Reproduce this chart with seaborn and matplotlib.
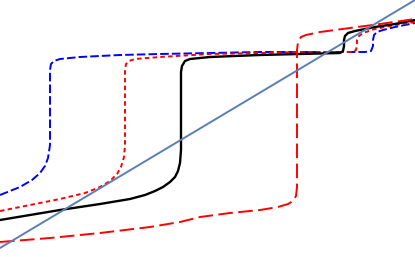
import matplotlib
matplotlib.use("Agg")
import matplotlib.pyplot as plt
import seaborn as sns
import pandas as pd

sns.set_theme(style="white")

# Curves (x, y)
blue_x = [0, 20, 32, 40, 45, 48, 50, 50, 50, 51, 54, 60, 80, 120, 160, 210, 260, 300, 340, 365, 371, 373, 373, 374, 377, 383, 395, 415]
blue_y = [62, 70, 77, 84, 91, 99, 112, 157, 187, 193, 196, 198, 200, 202, 203, 204, 205, 205, 205, 205, 206, 211, 217, 222, 225, 227, 230, 234]

red_short_x = [0, 30, 60, 85, 100, 110, 117, 121, 124, 125, 125, 125, 126, 129, 135, 160, 210, 260, 300, 340, 352, 356, 357, 357, 359, 363, 375, 395, 415]
red_short_y = [46, 52, 58, 64, 70, 76, 83, 90, 100, 112, 157, 187, 193, 196, 198, 200, 203, 204, 205, 205, 205, 207, 212, 217, 221, 224, 228, 232, 235]

black_x = [0, 30, 60, 100, 130, 145, 155, 163, 170, 175, 178, 180, 181, 181, 181, 182, 185, 190, 210, 260, 300, 340, 343, 344, 344, 345, 348, 355, 375, 395, 415]
black_y = [37, 42, 47, 53, 58, 62, 66, 70, 75, 80, 86, 94, 107, 157, 185, 191, 196, 198, 200, 202, 203, 204, 206, 211, 217, 221, 224, 226, 230, 233, 237]

red_long_x = [0, 50, 100, 150, 180, 200, 230, 260, 278, 288, 293, 296, 297, 297, 297, 297, 298, 301, 306, 320, 350, 380, 415]
red_long_y = [15, 19, 24, 30, 35, 40, 44, 47, 50, 53, 56, 61, 70, 107, 157, 207, 215, 220, 222, 225, 229, 233, 238]

diag_x = [0, 415]
diag_y = [9, 257]

fig = plt.figure(figsize=(4.15, 2.57), dpi=100)
ax = fig.add_axes([0, 0, 1, 1])

def draw(xs, ys, color, lw, ls):
    df = pd.DataFrame({"x": xs, "y": ys})
    sns.lineplot(data=df, x="x", y="y", sort=False, ax=ax, color=color,
                 linewidth=lw, linestyle=ls, estimator=None)

draw(blue_x, blue_y, "#0000ff", 1.4, (0, (4.4, 1.6)))
draw(red_short_x, red_short_y, "#ff0000", 1.4, (0, (2.3, 1.7)))
draw(black_x, black_y, "black", 1.7, "-")
draw(red_long_x, red_long_y, "#ff0000", 1.4, (0, (7.5, 2.8)))
draw(diag_x, diag_y, "#5b7fb5", 1.4, "-")

ax.set_xlim(0, 415)
ax.set_ylim(0, 257)
ax.axis("off")
fig.savefig("out.png", dpi=100)
